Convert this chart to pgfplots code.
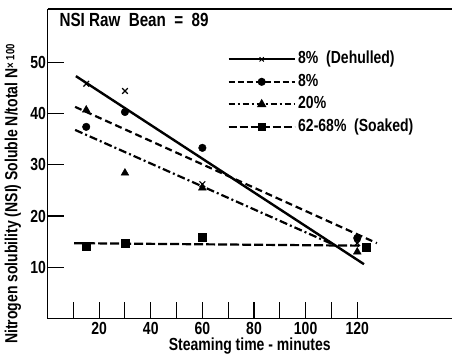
\documentclass[border=0pt]{standalone}
\usepackage{fontspec}
\setmainfont{Liberation Sans}[FakeStretch=0.8]
\usepackage{pgfplots}
\pgfplotsset{compat=1.18}
\newcommand{\bigf}{\fontsize{17.5}{19}\selectfont\bfseries}
\begin{document}
\begin{tikzpicture}
\useasboundingbox (0,0) rectangle (456pt,354pt);
\begin{axis}[
  scale only axis, width=404.5pt, height=309.5pt,
  anchor=south west, at={(47.5pt,35.5pt)},
  xmin=0, xmax=156.7, ymin=0, ymax=60.4,
  separate axis lines,
  axis x line=box, axis y line=left,
  axis line style={-, line width=1.3pt},
  xtick pos=left,
  tick align=inside,
  major tick length=16pt,
  tick style={line width=1.1pt, black},
  xtick={10,20,...,120},
  xticklabels={,20,,40,,60,,80,,100,,120},
  ytick={10,20,30,40,50},
  /pgf/number format/assume math mode=true,
  ticklabel style={font=\bigf},
  yticklabel style={xshift=2pt},
  xticklabel style={anchor=north, inner sep=0pt, yshift=-4pt, text depth=0pt},
  xlabel={Steaming time - minutes},
  xlabel style={at={(rel axis cs:0.5,0)}, anchor=base, yshift=-31.5pt, inner sep=0pt, font=\bigf},
  clip=false,
  legend image code/.code={\draw[mark repeat=2,mark phase=2,#1] plot coordinates {(0pt,0pt)(33pt,0pt)(66pt,0pt)};},
  legend style={at={(rel axis cs:0.445,0.872)}, anchor=north west, draw=none, fill=none,
    font=\bigf, inner sep=0pt, row sep=1.5pt,
    nodes={inner sep=2.5pt, text height=12.5pt, text depth=3.5pt}},
  legend cell align=left,
]
% fitted lines
\addplot[forget plot, line width=2.4pt] coordinates {(11,47.3) (122.6,10.6)};
\addplot[forget plot, line width=2.2pt, dash pattern=on 7pt off 4pt] coordinates {(10.7,41.3) (127.6,14.7)};
\addplot[forget plot, line width=2.2pt, dash pattern=on 8pt off 3pt on 2pt off 3pt] coordinates {(10.7,36.8) (111.3,14.3)};
\addplot[forget plot, line width=2.2pt, dash pattern=on 9pt off 3pt] coordinates {(10.3,14.7) (124,14.2)};
% points
\addplot[forget plot, only marks, mark=x, mark size=4pt, mark options={line width=1.2pt}] coordinates {(15,45.8) (30,44.4) (60,26.2) (120,14.7)};
\addplot[forget plot, only marks, mark=*, mark size=3.8pt] coordinates {(15,37.4) (30,40.3) (60,33.3) (120,15.7)};
\addplot[forget plot, only marks, mark=triangle*, mark size=4.5pt] coordinates {(15,40.7) (30,28.4) (60,25.5) (120,13.0)};
\addplot[forget plot, only marks, mark=square*, mark size=3.8pt] coordinates {(15,14.1) (30,14.7) (60,15.9) (123.5,13.95)};
% legend
\addlegendimage{line width=2pt, mark=x, mark size=3pt, mark options={solid, line width=1pt}}
\addlegendentry{8\%\ \ (Dehulled)}
\addlegendimage{line width=2pt, dash pattern=on 6pt off 3pt, mark=*, mark size=3pt, mark options={solid}}
\addlegendentry{8\%}
\addlegendimage{line width=2pt, dash pattern=on 6pt off 3pt on 2pt off 3pt, mark=triangle*, mark size=3.5pt, mark options={solid}}
\addlegendentry{20\%}
\addlegendimage{line width=2pt, dash pattern=on 8pt off 3pt, mark=square*, mark size=3pt, mark options={solid}}
\addlegendentry{62-68\%\ \ (Soaked)}
\end{axis}
\node[anchor=west, font=\fontsize{19}{20}\selectfont\bfseries] at (56pt,334pt) {NSI\ Raw\ \ Bean\ \ =\ \ 89};
\node[rotate=90, font=\bigf] at (13pt,160pt) {Nitrogen solubility (NSI) Soluble N/total N\raisebox{3pt}{\fontsize{12}{13}\selectfont× 100}};
\end{tikzpicture}
\end{document}
